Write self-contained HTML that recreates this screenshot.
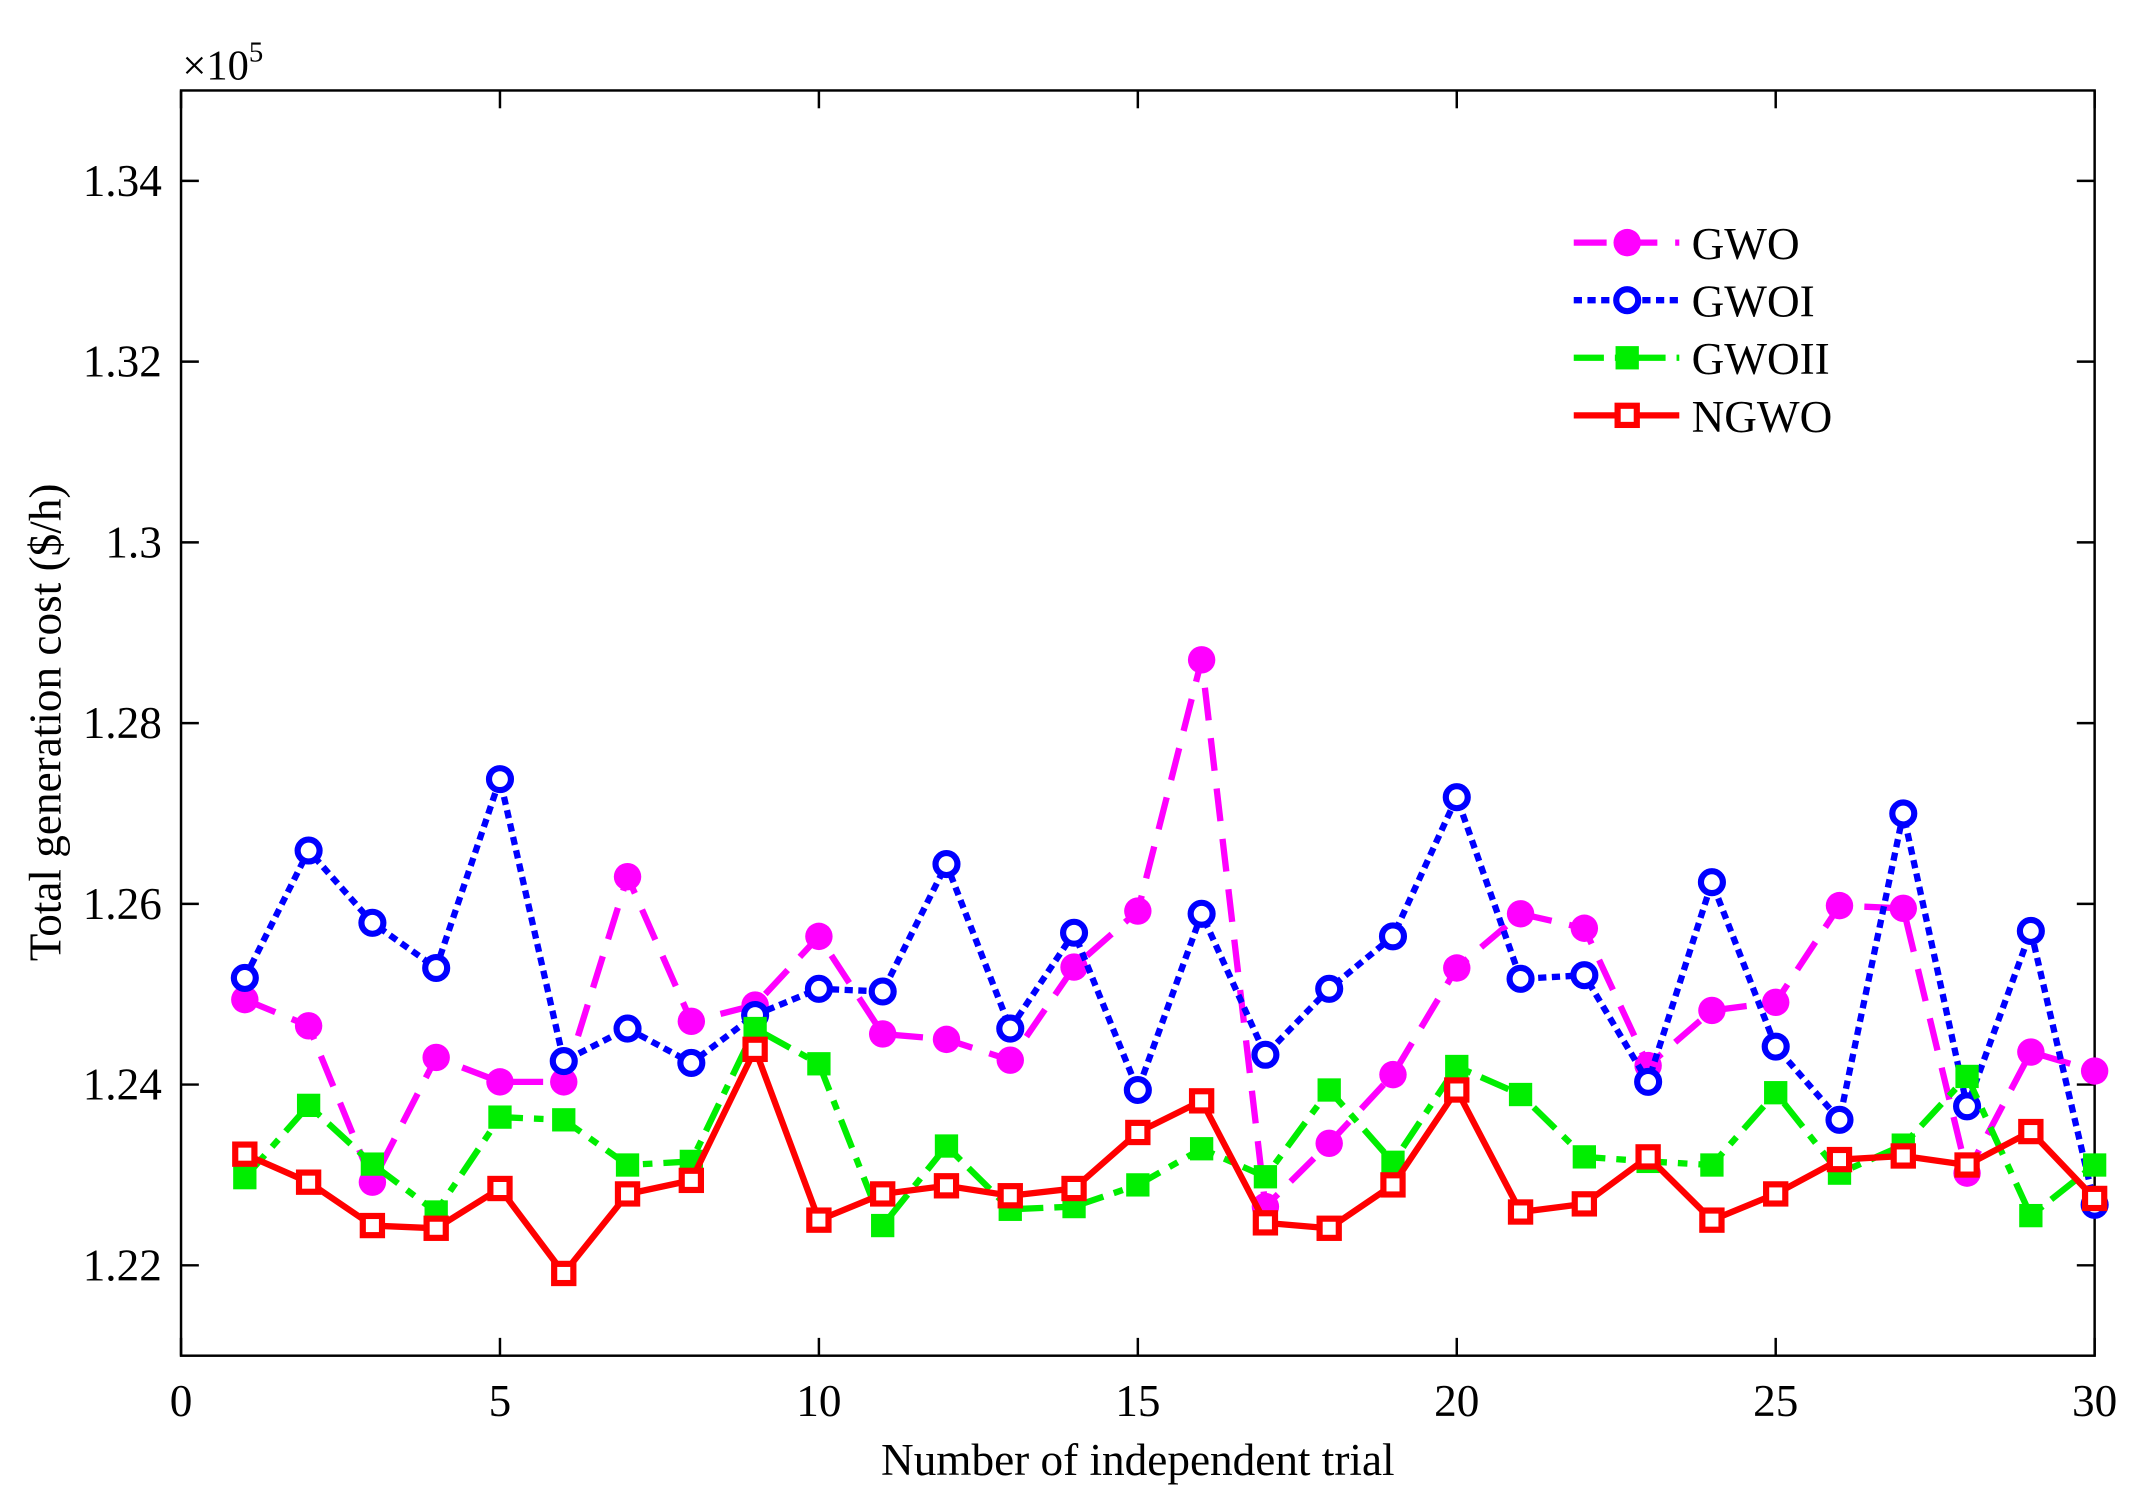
<!DOCTYPE html>
<html><head><meta charset="utf-8"><style>
html,body{margin:0;padding:0;background:#fff;}
svg{display:block;font-family:"Liberation Serif",serif;}
</style></head><body>
<svg id="chart" width="2129" height="1501" viewBox="0 0 1553 1095" xmlns="http://www.w3.org/2000/svg">
<rect width="1553" height="1095" fill="#fff"/>
<g id="axes"></g>
<g id="series"></g>
<g id="legend"></g>
</svg>
<script>
const trials = Array.from({length:30},(_,i)=>i+1);
const gwo = [1.2494,1.2465,1.2292,1.2430,1.2403,1.2403,1.2630,1.2470,1.2488,1.2564,1.2456,1.2450,1.2427,1.2530,1.2592,1.2870,1.2265,1.2335,1.2411,1.2529,1.2589,1.2573,1.2421,1.2482,1.2491,1.2598,1.2595,1.2302,1.2436,1.2415];
const gwoi = [1.2518,1.2659,1.2579,1.2529,1.2738,1.2426,1.2462,1.2424,1.2477,1.2506,1.2503,1.2644,1.2462,1.2568,1.2394,1.2589,1.2433,1.2506,1.2564,1.2718,1.2517,1.2521,1.2403,1.2624,1.2442,1.2361,1.2700,1.2376,1.2570,1.2267];
const gwoii = [1.2297,1.2377,1.2312,1.2259,1.2364,1.2361,1.2311,1.2315,1.2462,1.2423,1.2244,1.2332,1.2262,1.2265,1.2289,1.2329,1.2298,1.2394,1.2314,1.2420,1.2389,1.2320,1.2315,1.2311,1.2391,1.2302,1.2333,1.2409,1.2255,1.2311];
const ngwo = [1.2323,1.2292,1.2244,1.2241,1.2285,1.2191,1.2279,1.2294,1.2439,1.2250,1.2279,1.2288,1.2277,1.2285,1.2347,1.2382,1.2247,1.2241,1.2289,1.2394,1.2259,1.2268,1.2320,1.2250,1.2279,1.2317,1.2321,1.2311,1.2348,1.2274];
const xTicks = [0,5,10,15,20,25,30];
const yTicks = [1.22,1.24,1.26,1.28,1.3,1.32,1.34];
const yTickLabels = ["1.22","1.24","1.26","1.28","1.3","1.32","1.34"];
const seriesNames = ["GWO","GWOI","GWOII","NGWO"];

const L=132,R=1528,T=66,B=989, xMin=0,xMax=30,yMin=1.21,yMax=1.35;
const xs=v=>L+(v-xMin)/(xMax-xMin)*(R-L);
const ys=v=>B-(v-yMin)/(yMax-yMin)*(B-T);
const NS="http://www.w3.org/2000/svg";
function mk(tag,attrs,parent){const e=document.createElementNS(NS,tag);for(const k in attrs)e.setAttribute(k,attrs[k]);parent.appendChild(e);return e;}
const axes=document.getElementById('axes');
const frame=mk('rect',{x:L,y:T,width:R-L,height:B-T,fill:'none',stroke:'#000','stroke-width':1.8},axes);


xTicks.forEach(t=>{
  const x=xs(t);
  mk('line',{x1:x,y1:B,x2:x,y2:B-13,stroke:'#000','stroke-width':1.8},axes);
  mk('line',{x1:x,y1:T,x2:x,y2:T+13,stroke:'#000','stroke-width':1.8},axes);
  const tx=mk('text',{x:x,y:B+44,'text-anchor':'middle','font-size':33},axes);
  tx.textContent=t;
  
  
});
yTicks.forEach((t,i)=>{
  const y=ys(t);
  mk('line',{x1:L,y1:y,x2:L+13,y2:y,stroke:'#000','stroke-width':1.8},axes);
  mk('line',{x1:R,y1:y,x2:R-13,y2:y,stroke:'#000','stroke-width':1.8},axes);
  const tx=mk('text',{x:L-14,y:y+11,'text-anchor':'end','font-size':33},axes);
  tx.textContent=yTickLabels[i];
  
  
});
const xl=mk('text',{x:(L+R)/2,y:1076,'text-anchor':'middle','font-size':33},axes);
xl.textContent='Number of independent trial';


const yl=mk('text',{x:0,y:0,'text-anchor':'middle','font-size':33,transform:'translate(44,527) rotate(-90)'},axes);
yl.textContent='Total generation cost ($/h)';


const ex=mk('text',{x:133,y:58,'font-size':31},axes);
ex.innerHTML='×10<tspan dy="-13" font-size="21">5</tspan>';



const styles=[
 {data:gwo,color:'#ff00ff',dash:'24 13',marker:'fcircle'},
 {data:gwoi,color:'#0000ff',dash:'6 4',marker:'ocircle'},
 {data:gwoii,color:'#00ee00',dash:'22 8 7 8',marker:'fsquare'},
 {data:ngwo,color:'#ff0000',dash:'',marker:'osquare'}
];
function marker(g,type,x,y,c){
  let e;
  if(type==='fcircle')e=mk('circle',{cx:x,cy:y,r:10,fill:c},g);
  else if(type==='ocircle')e=mk('circle',{cx:x,cy:y,r:8,fill:'#fff',stroke:c,'stroke-width':4.5},g);
  else if(type==='fsquare')e=mk('rect',{x:x-8.5,y:y-8.5,width:17,height:17,fill:c},g);
  else e=mk('rect',{x:x-7,y:y-7,width:14,height:14,fill:'#fff',stroke:c,'stroke-width':4.5},g);
  return e;
}
const sg=document.getElementById('series');
styles.forEach((s,si)=>{
  const g=mk('g',{},sg);
  
  
  const pts=s.data.map((v,i)=>xs(trials[i])+','+ys(v)).join(' ');
  const pl=mk('polyline',{points:pts,fill:'none',stroke:s.color,'stroke-width':4.6,'stroke-dasharray':s.dash,'stroke-linejoin':'miter'},g);
  
  
  s.data.forEach((v,i)=>{
    const m=marker(g,s.marker,xs(trials[i]),ys(v),s.color);
    
    
  });
});
const lg=document.getElementById('legend');
styles.forEach((s,si)=>{
  const y=177+si*42;
  const g=mk('g',{},lg);
  
  
  mk('line',{x1:1148,y1:y,x2:1225,y2:y,stroke:s.color,'stroke-width':4.6,'stroke-dasharray':s.dash},g);
  marker(g,s.marker,1187,y,s.color);
  const t=mk('text',{x:1234,y:y+12,'font-size':33},g);
  t.textContent=seriesNames[si];
});
</script>
</body></html>
